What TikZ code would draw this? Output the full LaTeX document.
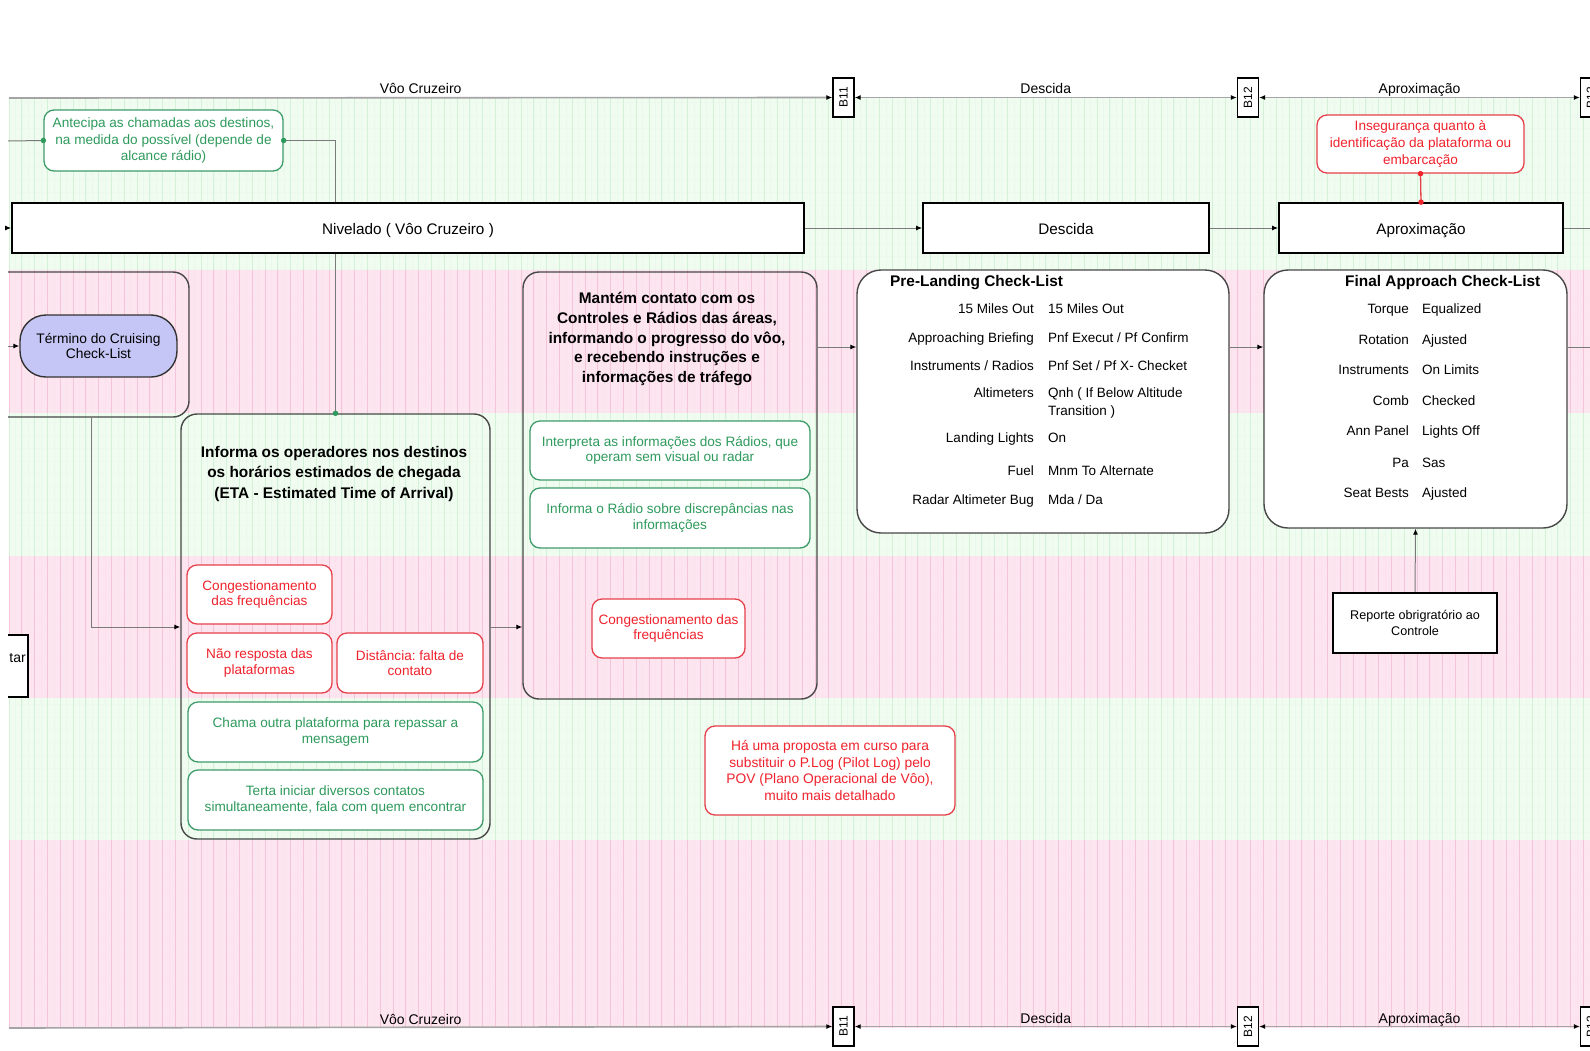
\documentclass[tikz,border=0pt]{standalone}
\usepackage{fontspec}
\usepackage{graphicx}
\setmainfont{Liberation Sans}
\usetikzlibrary{arrows.meta}
\frenchspacing

\definecolor{bandgreen}{HTML}{EFFCEF}
\definecolor{gridgreen}{HTML}{D3F1D6}
\definecolor{bandpink}{HTML}{FDE5EF}
\definecolor{gridpink}{HTML}{F6C4D8}
\definecolor{issuered}{HTML}{F0222C}
\definecolor{issueredline}{HTML}{E6404A}
\definecolor{actgreen}{HTML}{2E9A5C}
\definecolor{actgreenline}{HTML}{3E9B6A}
\definecolor{lavender}{HTML}{C6C6F6}
\definecolor{connector}{HTML}{7A7A7A}
\definecolor{laneline}{HTML}{A4A4A4}

\newcommand\fsz[2]{\fontsize{#1}{#2}\selectfont}

% one horizontal swimlane with its graph-paper grid
\newcommand\lanestripe[4]{%
  \fill[#3] (9,#1) rectangle (1590,#2);
  \begin{scope}
    \clip (9,#1) rectangle (1590,#2);
    \foreach \gx in {15.4,21.8,...,1590} \draw[#4!50, line width=0.5pt] (\gx,#1) -- (\gx,#2);
    \foreach \gy in {0,12.8,...,1050} \draw[#4!40, line width=0.5pt] (9,\gy) -- (1590,\gy);
    \foreach \gx in {9,21.8,...,1590} \draw[#4, line width=0.9pt] (\gx,#1) -- (\gx,#2);
  \end{scope}}

\pgfdeclarelayer{bands}
\pgfdeclarelayer{links}
\pgfsetlayers{bands,links,main}

\begin{document}
\begin{tikzpicture}[x=1pt,y=-1pt,
  phase/.style={draw=black, line width=1.8pt, fill=white, inner sep=0pt,
    align=center, font=\fsz{15.3}{18}},
  phaselabel/.style={text height=14pt, text depth=2pt},
  poolbox/.style={draw=black!72, line width=1.4pt, rounded corners=16pt, inner sep=0pt},
  checkbox/.style={poolbox, fill=white, rounded corners=24pt},
  terminal/.style={draw=black!80, line width=1.4pt, fill=lavender, rounded corners=26pt,
    align=center, inner sep=0pt, font=\fsz{13.8}{15.5}},
  issue/.style={draw=issueredline, line width=1.3pt, rounded corners=10pt, fill=white,
    text=issuered, align=center, inner sep=0pt, font=\fsz{13.6}{15.5}},
  action/.style={issue, draw=actgreenline, text=actgreen},
  bmark/.style={draw=black, line width=1.4pt, fill=white, inner sep=0pt,
    minimum width=21pt, minimum height=39pt, font=\fsz{12}{14}},
  lanelink/.style={draw=laneline, line width=1.6pt},
  lanetip/.style={lanelink, -{Latex[length=6pt,width=5pt,color=black]}},
  lanetips/.style={lanelink, {Latex[length=6pt,width=5pt,color=black]}-{Latex[length=6pt,width=5pt,color=black]}},
  lanelabel/.style={anchor=base, inner sep=0pt, font=\fsz{14}{16}},
  plainlink/.style={draw=connector, line width=1pt},
  conn/.style={plainlink, -{Latex[length=6pt,width=5pt,color=black]}},
  joint/.style={circle, fill=#1, inner sep=0pt, minimum size=5.5pt},
  heading/.style={align=center, inner sep=0pt, font=\fsz{15.4}{20.5}\bfseries},
  cltitle/.style={anchor=west, inner sep=0pt, font=\fsz{15.4}{18}\bfseries,
    text height=11pt, text depth=3pt, yshift=-2pt},
  rowlabel/.style={anchor=east, inner sep=0pt, font=\fsz{13.5}{16},
    text height=10pt, text depth=3pt, yshift=-2pt},
  rowvalue/.style={anchor=west, inner sep=0pt, font=\fsz{13.5}{16},
    text height=10pt, text depth=3pt, yshift=-2pt}
]
\useasboundingbox (0,0) rectangle (1590,1050);

% ---------- swimlanes ----------
\begin{pgfonlayer}{bands}
  \fill[white] (0,0) rectangle (1590,1050);
  \lanestripe{98}{270}{bandgreen}{gridgreen}
  \lanestripe{270}{413}{bandpink}{gridpink}
  \lanestripe{413}{556}{bandgreen}{gridgreen}
  \lanestripe{556}{698}{bandpink}{gridpink}
  \lanestripe{698}{840}{bandgreen}{gridgreen}
  \lanestripe{840}{1028}{bandpink}{gridpink}
\end{pgfonlayer}

\begin{scope}
\clip (8,-10) rectangle (1600,1060);

% ---------- stage markers ----------
\node[bmark] (b11t) at (843.5,97.5) {\rotatebox{90}{B11}};
\node[bmark] (b12t) at (1248,97.5) {\rotatebox{90}{B12}};
\node[bmark] (b13t) at (1591,97.5) {\rotatebox{90}{B13}};
\node[bmark] (b11b) at (843.5,1026.5) {\rotatebox{90}{B11}};
\node[bmark] (b12b) at (1248,1026.5) {\rotatebox{90}{B12}};
\node[bmark] (b13b) at (1591,1026.5) {\rotatebox{90}{B13}};
\coordinate (lanetopstart) at (9,98);
\coordinate (lanebotstart) at (9,1028);

% ---------- flight phases ----------
\node[phase, phaselabel, minimum width=792pt, minimum height=50pt] (nivelado) at (408,228) {Nivelado ( Vôo Cruzeiro )};
\node[phase, phaselabel, minimum width=286pt, minimum height=50pt] (descida) at (1066,228) {Descida};
\node[phase, phaselabel, minimum width=284pt, minimum height=50pt] (aprox) at (1421,228) {Aproximação};

% ---------- notes in the top lane ----------
\node[action, minimum width=239pt, minimum height=61pt, font=\fsz{13.6}{16.2}] (antecipa) at (163.5,140.5)
  {Antecipa as chamadas aos destinos,\\na medida do possível (depende de\\alcance rádio)};
\node[issue, minimum width=207pt, minimum height=58pt, font=\fsz{13.6}{16.8}] (inseg) at (1420.5,144)
  {Insegurança quanto à\\identificação da plataforma ou\\embarcação};

% ---------- cruise check-list ----------
\node[poolbox, minimum width=240pt, minimum height=145pt] (cruise) at (69,344.5) {};
\node[terminal, minimum width=157pt, minimum height=62pt] (termino) at (98.5,346) {Término do Cruising\\Check-List};

% ---------- partially visible step ----------
\node[phase, minimum width=60pt, minimum height=62pt] (tarbox) at (-2,666) {};
\node[anchor=east, inner sep=0pt, font=\fsz{14}{16}] (tartext) at (26,658) {tar};

% ---------- ETA information ----------
\node[poolbox, minimum width=309pt, minimum height=425pt] (informa) at (335.5,626.5) {};
\node[heading] (informatitle) at (334,474) {Informa os operadores nos destinos\\os horários estimados de chegada\\(ETA - Estimated Time of Arrival)};
\node[issue, minimum width=145pt, minimum height=59pt] (congA) at (259.5,594.5) {Congestionamento\\das frequências};
\node[issue, minimum width=145pt, minimum height=60pt] (naoresp) at (259.5,663) {Não resposta das\\plataformas};
\node[issue, minimum width=146pt, minimum height=60pt] (distancia) at (410,663) {Distância: falta de\\contato};
\node[action, minimum width=295pt, minimum height=60pt] (chama) at (335.5,732) {Chama outra plataforma para repassar a\\mensagem};
\node[action, minimum width=295pt, minimum height=60pt] (terta) at (335.5,800) {Terta iniciar diversos contatos\\simultaneamente, fala com quem encontrar};

% ---------- contact with controls ----------
\node[poolbox, minimum width=294pt, minimum height=427pt] (mantem) at (670,485.5) {};
\node[heading, font=\fsz{15.4}{19.7}\bfseries] (mantemtitle) at (667,339) {Mantém contato com os\\Controles e Rádios das áreas,\\informando o progresso do vôo,\\e recebendo instruções e\\informações de tráfego};
\node[action, minimum width=280pt, minimum height=59pt] (interpreta) at (670,450.5) {Interpreta as informações dos Rádios, que\\operam sem visual ou radar};
\node[action, minimum width=280pt, minimum height=60pt] (informaradio) at (670,518) {Informa o Rádio sobre discrepâncias nas\\informações};
\node[issue, minimum width=153pt, minimum height=59pt] (congB) at (668.5,628.5) {Congestionamento das\\frequências};

% ---------- pre-landing check-list ----------
\node[checkbox, minimum width=372pt, minimum height=263pt] (prelanding) at (1043,401.5) {};
\node[cltitle] (pltitle) at (890,280) {Pre-Landing Check-List};
\node[rowlabel] (pl1l) at (1034,308) {15 Miles Out};
\node[rowvalue] (pl1v) at (1048,308) {15 Miles Out};
\node[rowlabel] (pl2l) at (1034,337) {Approaching Briefing};
\node[rowvalue] (pl2v) at (1048,337) {Pnf Execut / Pf Confirm};
\node[rowlabel] (pl3l) at (1034,365) {Instruments / Radios};
\node[rowvalue] (pl3v) at (1048,365) {Pnf Set / Pf X- Checket};
\node[rowlabel] (pl4l) at (1034,392) {Altimeters};
\node[anchor=north west, inner sep=0pt, align=left, font=\fsz{13.5}{18}] (pl4v) at (1048,388) {Qnh ( If Below Altitude\\Transition )};
\node[rowlabel] (pl5l) at (1034,437) {Landing Lights};
\node[rowvalue] (pl5v) at (1048,437) {On};
\node[rowlabel] (pl6l) at (1034,470) {Fuel};
\node[rowvalue] (pl6v) at (1048,470) {Mnm To Alternate};
\node[rowlabel] (pl7l) at (1034,499) {Radar Altimeter Bug};
\node[rowvalue] (pl7v) at (1048,499) {Mda / Da};

% ---------- final approach check-list ----------
\node[checkbox, minimum width=303pt, minimum height=258pt] (final) at (1415.5,399) {};
\node[cltitle] (fatitle) at (1345,280) {Final Approach Check-List};
\node[rowlabel] (fa1l) at (1409,308) {Torque};
\node[rowvalue] (fa1v) at (1422,308) {Equalized};
\node[rowlabel] (fa2l) at (1409,339) {Rotation};
\node[rowvalue] (fa2v) at (1422,339) {Ajusted};
\node[rowlabel] (fa3l) at (1409,369) {Instruments};
\node[rowvalue] (fa3v) at (1422,369) {On Limits};
\node[rowlabel] (fa4l) at (1409,400) {Comb};
\node[rowvalue] (fa4v) at (1422,400) {Checked};
\node[rowlabel] (fa5l) at (1409,430) {Ann Panel};
\node[rowvalue] (fa5v) at (1422,430) {Lights Off};
\node[rowlabel] (fa6l) at (1409,462) {Pa};
\node[rowvalue] (fa6v) at (1422,462) {Sas};
\node[rowlabel] (fa7l) at (1409,492) {Seat Bests};
\node[rowvalue] (fa7v) at (1422,492) {Ajusted};

% ---------- mandatory report and remark ----------
\node[phase, line width=1.5pt, minimum width=164pt, minimum height=60pt, font=\fsz{12.6}{16.5}] (reporte) at (1415,623) {Reporte obrigratório ao\\Controle};
\node[issue, minimum width=250pt, minimum height=89pt, font=\fsz{13.8}{16.5}] (proposta) at (830,770.5)
  {Há uma proposta em curso para\\substituir o P.Log (Pilot Log) pelo\\POV (Plano Operacional de Vôo),\\muito mais detalhado};

% ---------- helper points for connectors ----------
\coordinate (leftniv) at (8,228);
\coordinate (leftterm) at (8,346);
\coordinate (leftant) at (8,141);
\coordinate (rightaprox) at (1600,228);
\coordinate (rightfinal) at (1600,347);
\coordinate (dropx) at (91,0);
\coordinate (row627) at (0,627);
\coordinate (row347) at (0,347);

% ---------- connection dots ----------
\node[joint=actgreen] (jant1) at (antecipa.west) {};
\node[joint=actgreen] (jant2) at (antecipa.east) {};
\node[joint=actgreen] (jant3) at (informa.north) {};
\node[joint=issuered] (jins1) at (inseg.south) {};
\node[joint=issuered] (jins2) at (aprox.north) {};
\end{scope}

% ---------- connectors ----------
\begin{pgfonlayer}{links}
  \draw[lanetip] (lanetopstart) -- node[lanelabel, yshift=4pt] (lbl1) {Vôo Cruzeiro} (b11t.west);
  \draw[lanetips] (b11t.east) -- node[lanelabel, yshift=4pt] (lbl2) {Descida} (b12t.west);
  \draw[lanetips] (b12t.east) -- node[lanelabel, yshift=4pt] (lbl3) {Aproximação} (b13t.west);
  \draw[lanetip] (lanebotstart) -- node[lanelabel, yshift=3pt] (lbl4) {Vôo Cruzeiro} (b11b.west);
  \draw[lanetips] (b11b.east) -- node[lanelabel, yshift=3pt] (lbl5) {Descida} (b12b.west);
  \draw[lanetips] (b12b.east) -- node[lanelabel, yshift=3pt] (lbl6) {Aproximação} (b13b.west);

  \draw[conn] (leftniv) -- (nivelado.west);
  \draw[conn] (nivelado.east) -- (descida.west);
  \draw[conn] (descida.east) -- (aprox.west);
  \draw[plainlink] (aprox.east) -- (rightaprox);
  \draw[plainlink] (leftant) -- (antecipa.west);
  \draw[plainlink] (antecipa.east) -| (informa.north);
  \draw[conn] (leftterm) -- (termino.west);
  \draw[conn] (cruise.south -| dropx) |- (informa.west |- row627);
  \draw[conn] (informa.east |- row627) -- (mantem.west |- row627);
  \draw[conn] (mantem.east |- row347) -- (prelanding.west |- row347);
  \draw[conn] (prelanding.east |- row347) -- (final.west |- row347);
  \draw[plainlink] (final.east |- row347) -- (rightfinal);
  \draw[conn] (reporte.north) -- (final.south);
  \draw[draw=issueredline, line width=1.3pt] (inseg.south) -- (aprox.north);
\end{pgfonlayer}
\end{tikzpicture}
\end{document}
